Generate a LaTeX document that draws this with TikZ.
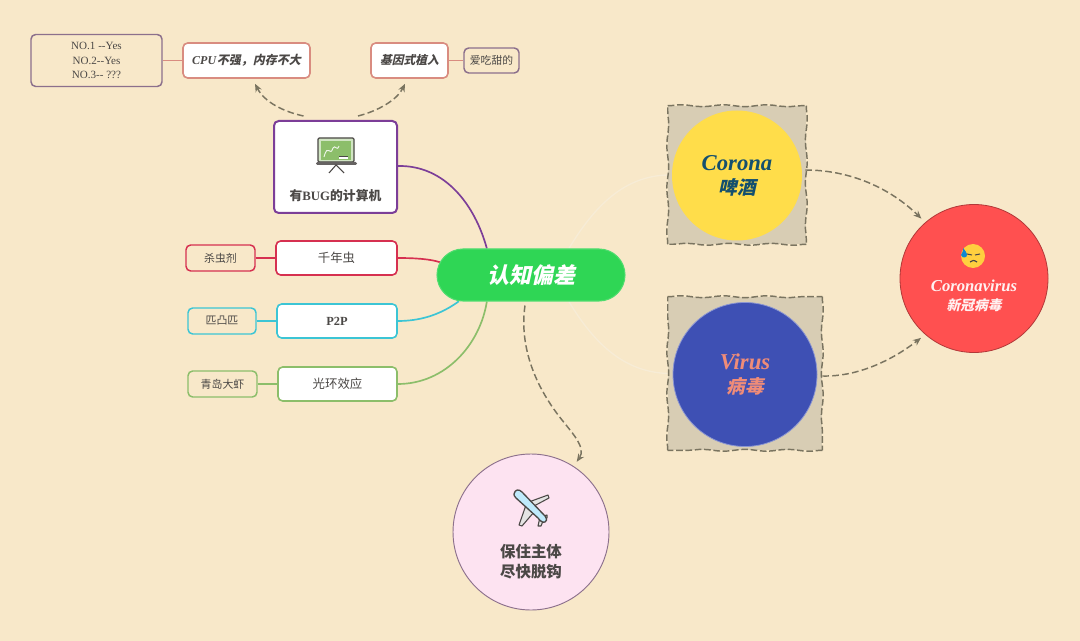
\documentclass[tikz,border=0pt]{standalone}
\usepackage{fontspec}
\setmainfont{Liberation Serif}
\newfontfamily\cjkfont{Noto Sans CJK SC}
\newfontfamily\cjkslant[FakeSlant=0.22]{Noto Sans CJK SC}
\usepackage{xcolor}
\definecolor{paper}{RGB}{248,232,201}
\definecolor{sand}{RGB}{216,205,180}
\definecolor{mygreen}{RGB}{47,214,85}
\definecolor{myyellow}{RGB}{255,221,74}
\definecolor{myblue}{RGB}{62,80,180}
\definecolor{myred}{RGB}{255,80,80}
\definecolor{mypink}{RGB}{253,227,241}
\definecolor{salmon}{RGB}{217,140,128}
\definecolor{mypurple}{RGB}{124,62,152}
\definecolor{dullpurple}{RGB}{140,112,140}
\definecolor{crimson}{RGB}{214,48,80}
\definecolor{mycyan}{RGB}{60,197,213}
\definecolor{leaf}{RGB}{140,190,106}
\definecolor{ink}{RGB}{75,72,70}
\definecolor{dash}{RGB}{122,116,96}
\definecolor{faint}{RGB}{247,236,214}
\definecolor{petrol}{RGB}{20,80,110}
\definecolor{peach}{RGB}{240,140,120}
\usepackage{tikz}
\usetikzlibrary{calc}
\usetikzlibrary{arrows.meta}
\usetikzlibrary{backgrounds}
\usetikzlibrary{shapes.misc}
\usetikzlibrary{decorations.pathmorphing}
\newcommand{\fsz}[1]{\fontsize{#1}{#1}\selectfont}
\newcommand{\cn}[1]{{\cjkfont #1}}
\newcommand{\cnb}[1]{{\cjkfont\bfseries #1}}
\newcommand{\cni}[1]{{\cjkslant\bfseries #1}}
\newcommand{\wavyframe}[1]{
    \draw[wavyside] (#1.north west) -- (#1.north east);
    \draw[wavyside] (#1.north east) -- (#1.south east);
    \draw[wavyside] (#1.south east) -- (#1.south west);
    \draw[wavyside] (#1.south west) -- (#1.north west);
}
\tikzset{
    common/.style={draw, rectangle, rounded corners=3.5pt, inner sep=0pt, text=ink},
    topic/.style 2 args={common, fill=white, line width=1.2pt, minimum width=#1*0.75pt, minimum height=#2*0.75pt},
    leafbox/.style 2 args={common, fill=paper, line width=1.1pt, minimum width=#1*0.75pt, minimum height=#2*0.75pt},
    ball/.style={draw, circle, inner sep=0pt, align=center, minimum size=#1*0.75pt},
    sandbox/.style 2 args={fill=sand, inner sep=0pt, minimum width=#1*0.75pt, minimum height=#2*0.75pt},
    wavyside/.style={draw=dash, line width=1.1pt, dash pattern=on 5pt off 2pt, decorate, decoration={snake, amplitude=0.7pt, segment length=32pt}},
    branch/.style={line width=1.25pt},
    dasharrow/.style={draw=dash, line width=1.1pt, dash pattern=on 5pt off 2.5pt, -{Stealth[length=6pt, width=5pt]}},
    fadeline/.style={draw=faint, line width=1pt},
}
\begin{document}
\begin{tikzpicture}[x=0.75pt, y=-0.75pt]
    \useasboundingbox (0,0) rectangle (1080,641);

    \node[draw=mygreen!85!white, fill=mygreen, rounded rectangle, inner sep=0pt, line width=0.8pt, minimum width=188*0.75pt, minimum height=52*0.75pt, text=white] (central) at (531,275) {\fsz{16.5}\cni{认知偏差}};

    \node[topic={127}{35}, draw=salmon] (cpu) at (246.5,60.5) {\fsz{9}\textbf{\textit{CPU}}\cni{不强，内存不大}};
    \node[leafbox={131}{52}, draw=dullpurple] (tests) at (96.5,60.5) {\parbox{90pt}{\centering\fsz{8.3}\baselineskip=10.6pt NO.1 -{}-Yes\\NO.2-{}-Yes\\NO.3-{}- ???}};
    \node[topic={77}{35}, draw=salmon] (gene) at (409.5,60.5) {\fsz{8.8}\cni{基因式植入}};
    \node[leafbox={55}{25}, draw=dullpurple] (sweet) at (491.5,60.5) {\fsz{8.1}\cn{爱吃甜的}};

    \node[topic={123}{92}, draw=mypurple, line width=1.5pt] (computer) at (335.5,167) {};
    \node[text=ink, inner sep=0pt] (computer-text) at (335.5,196) {\fsz{9.6}\cnb{有}\textbf{BUG}\cnb{的计算机}};

    \node[topic={121}{34}, draw=crimson] (y2k) at (336.5,258) {\fsz{9.3}\cn{千年虫}};
    \node[leafbox={69}{26}, draw=crimson] (bugspray) at (220.5,258) {\fsz{8.2}\cn{杀虫剂}};
    \node[topic={120}{34}, draw=mycyan] (ptp) at (337,321) {\fsz{9.3}\textbf{P2P}};
    \node[leafbox={68}{26}, draw=mycyan] (pitupi) at (222,321) {\fsz{8.2}\cn{匹凸匹}};
    \node[topic={119}{34}, draw=leaf] (halo) at (337.5,384) {\fsz{9.3}\cn{光环效应}};
    \node[leafbox={69}{26}, draw=leaf] (shrimp) at (222.5,384) {\fsz{8.2}\cn{青岛大虾}};

    \node[sandbox={138}{138}] (corona-box) at (737,175) {};
    \wavyframe{corona-box}
    \node[ball=130, fill=myyellow, draw=none, text=petrol] (corona) at (737,175.5) {\fsz{17}\textbf{\textit{Corona}}\\[5pt]\fsz{14}\cni{啤酒}};
    \node[sandbox={154}{153}] (virus-box) at (745,373.5) {};
    \wavyframe{virus-box}
    \node[ball=144, fill=myblue, draw=myblue!60!white, line width=0.6pt, text=peach] (virus) at (745,374.5) {\fsz{17}\textbf{\textit{Virus}}\\[5pt]\fsz{14}\cni{病毒}};

    \node[ball=148, fill=myred, draw=myred!70!black, line width=0.6pt] (coronavirus) at (974,278.5) {};
    \node[text=white!92!myred, align=center, inner sep=0pt] (coronavirus-text) at (974,296) {\fsz{12.5}\textbf{\textit{Coronavirus}}\\[2pt]\fsz{10.3}\cni{新冠病毒}};

    \node[ball=156, fill=mypink, draw=dullpurple, line width=0.7pt] (escape) at (531,532) {};
    \node[text=ink, align=center, inner sep=0pt] (escape-text) at (531,562) {\fsz{11.6}\cnb{保住主体}\\[3pt]\fsz{11.6}\cnb{尽快脱钩}};

    \begin{scope}[on background layer]
        \fill[paper] (0,0) rectangle (1080,641);
        \draw[branch, draw=mypurple] (computer.east) ++(0,-1) .. controls (445,165) and (475,205) .. (central.149);
        \draw[branch, draw=crimson] (y2k.east) .. controls (415,258) and (430,259) .. (central.172);
        \draw[branch, draw=mycyan] (ptp.east) .. controls (420,321) and (440,315) .. (central.200);
        \draw[branch, draw=leaf] (halo.east) .. controls (445,384) and (480,345) .. (central.211);
        \draw[branch, draw=salmon] (tests.east) -- (cpu.west);
        \draw[branch, draw=salmon] (gene.east) -- (sweet.west);
        \draw[branch, draw=crimson] (bugspray.east) -- (y2k.west);
        \draw[branch, draw=mycyan] (pitupi.east) -- (ptp.west);
        \draw[branch, draw=leaf] (shrimp.east) -- (halo.west);
        \draw[fadeline] (central.35) .. controls (595,205) and (625,176) .. (corona-box.west);
        \draw[fadeline] (central.325) .. controls (595,345) and (625,372) .. (virus-box.west);
    \end{scope}

    \path[dasharrow] (computer.north) ++(-32,-4) .. controls (285,112) and (265,103) .. ($(cpu.south)+(8.5,5)$);
    \path[dasharrow] (computer.north) ++(22.5,-4) .. controls (378,111) and (397,100) .. ($(gene.south)+(-4.5,5)$);
    \path[dasharrow, shorten >=4pt] (central.south) ++(-6,4) .. controls (520,340) and (530,380) .. (562,420) .. controls (574,435) and (586,448) .. (escape.57);
    \path[dasharrow, shorten >=4pt] (corona-box.east) ++(-1,-5) .. controls (850,170) and (890,188) .. (coronavirus.131);
    \path[dasharrow, shorten >=4pt] (virus-box.east) ++(0,2.5) .. controls (860,377) and (895,358) .. (coronavirus.229);

    \begin{scope}[shift={(336,150)}]
        \fill[white!60!leaf, rounded corners=1pt, draw=ink, line width=0.9pt] (-18,12) rectangle (18,-12);
        \fill[leaf] (-15,10) rectangle (15,-9);
        \draw[white!85!leaf, line width=0.7pt] (-12,7) .. controls (-8,-8) and (-6,8) .. (-3,-2) .. controls (-1,-6) and (1,2) .. (3,-4);
        \draw[white, line width=1.2pt] (3,8) -- (12,8);
        \draw[ink, line width=0.7pt] (3,6.5) -- (12,6.5);
        \fill[ink!85!white, rounded corners=1pt] (-20,12) rectangle (21,15);
        \draw[ink, line width=0.8pt] (-7,23) -- (0,15) -- (8,23);
    \end{scope}

    \begin{scope}[shift={(973,256)}]
        \fill[myyellow!85!orange] (0,0) circle (12);
        \fill[cyan!70!blue] (-10,-8) .. controls (-9,-4) and (-12,-3) .. (-12,-1) .. controls (-11,3) and (-5,2) .. (-6,-2) .. controls (-6,-4) and (-9,-6) .. (-10,-8) -- cycle;
        \draw[ink, line width=0.8pt] (-6,-2) -- (-1,-1) (2,-1) -- (7,-2);
        \draw[ink, line width=0.9pt] (-3,6) .. controls (-1,4) and (1,4) .. (4,6);
    \end{scope}

    \begin{scope}[shift={(531,507)}]
        \draw[ink, fill=white!85!ink, line width=0.8pt, line join=round] (-5,-4) -- (17,-12) -- (18,-9) -- (3,-1) -- cycle;
        \draw[ink, fill=white!85!ink, line width=0.8pt, line join=round] (-5,-2) -- (-12,18) -- (-9,19) -- (3,5) -- cycle;
        \draw[ink, fill=white!85!ink, line width=0.8pt, line join=round] (9,10) -- (16,8) -- (16,11) -- (12,14) -- (10,19) -- (7,19) -- cycle;
        \draw[ink, fill=cyan!25!white, line width=1pt, line join=round] (-17,-13) .. controls (-16,-18) and (-12,-18) .. (-9,-15) -- (14,9) .. controls (16,12) and (16,15) .. (14,15) .. controls (12,16) and (9,14) .. (7,11) -- (-15,-9) .. controls (-17,-11) and (-17,-12) .. (-17,-13) -- cycle;
    \end{scope}
\end{tikzpicture}
\end{document}
